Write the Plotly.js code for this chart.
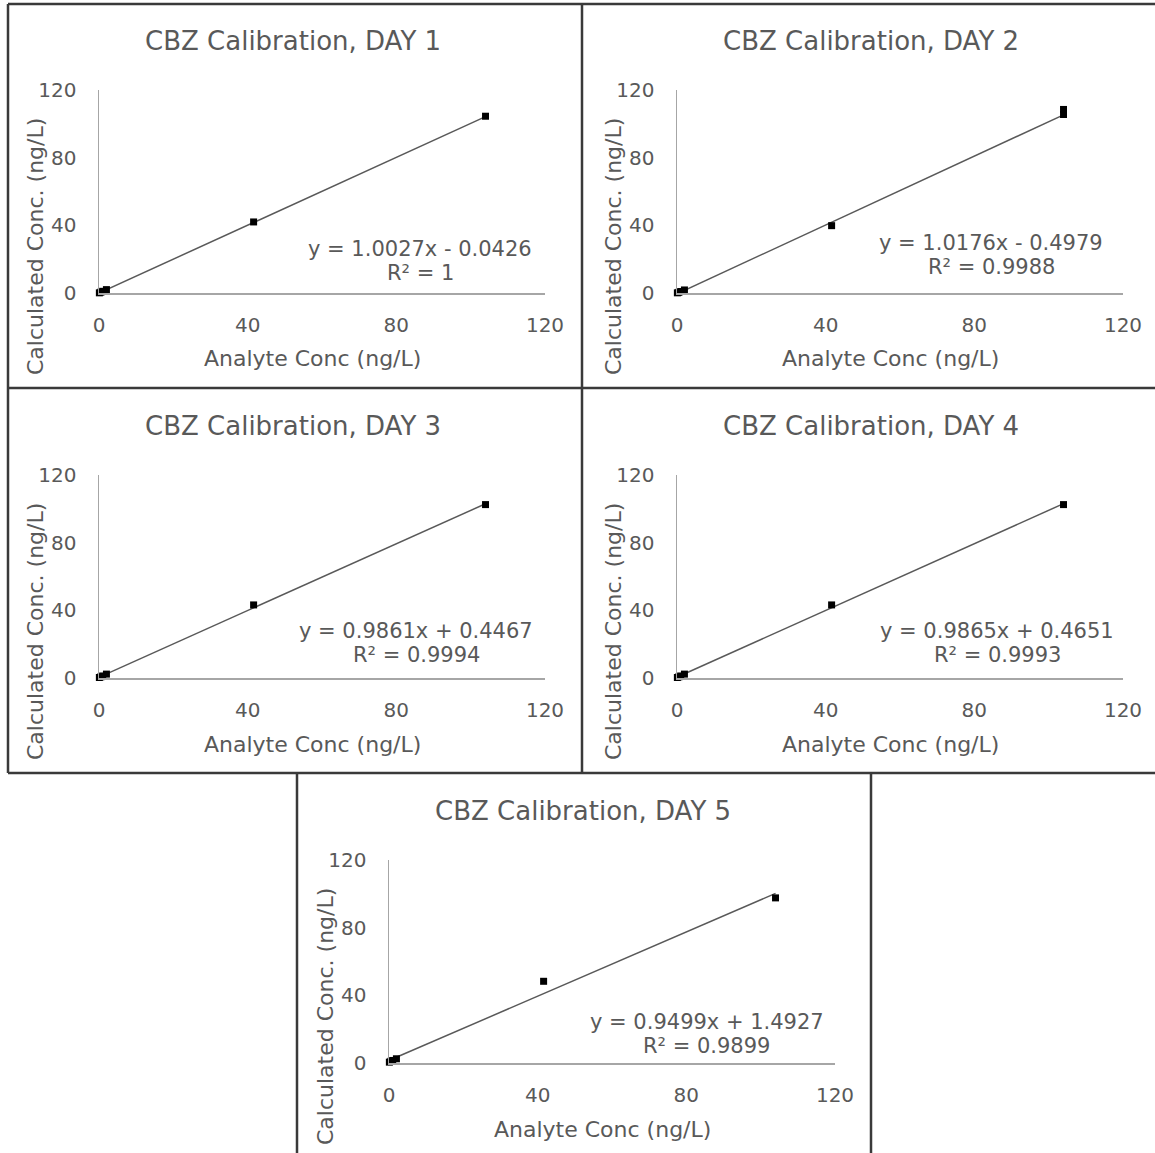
<!DOCTYPE html>
<html><head><meta charset="utf-8">
<script src="https://cdn.plot.ly/plotly-3.0.1.min.js"></script>
<style>body{margin:0;background:#fff}</style>
</head><body><div id="chart" style="width:1155px;height:1153px"></div>
<script>
// ---- data ----
const dayLabels = ['DAY 1', 'DAY 2', 'DAY 3', 'DAY 4', 'DAY 5'];
const day1X = [0.1, 0.5, 1, 2, 41.6, 104];
const day1Y = [0.1, 0.5, 1.0, 2.0, 42.0, 104.5];
const day2X = [0.1, 0.5, 1, 2, 41.6, 104, 104];
const day2Y = [0.1, 0.4, 0.9, 1.8, 39.8, 108.5, 105.5];
const day3X = [0.1, 0.5, 1, 2, 41.6, 104];
const day3Y = [0.3, 0.7, 1.2, 2.3, 43.2, 102.5];
const day4X = [0.1, 0.5, 1, 2, 41.6, 104];
const day4Y = [0.3, 0.7, 1.2, 2.3, 43.2, 102.5];
const day5X = [0.1, 0.5, 1, 2, 41.6, 104];
const day5Y = [0.5, 1.0, 1.5, 2.5, 48.3, 97.6];
const slopes = [1.0027, 1.0176, 0.9861, 0.9865, 0.9499];
const intercepts = [-0.0426, -0.4979, 0.4467, 0.4651, 1.4927];
const r2Labels = ['1', '0.9988', '0.9994', '0.9993', '0.9899'];
const tickVals = [0, 40, 80, 120];
const xTitle = 'Analyte Conc (ng/L)';
const yTitle = 'Calculated Conc. (ng/L)';
const titlePrefix = 'CBZ Calibration, ';

const xs = [day1X, day2X, day3X, day4X, day5X];
const ys = [day1Y, day2Y, day3Y, day4Y, day5Y];

// ---- layout geometry (pixels) ----
const W = 1155, H = 1153;
const offsets = [[0, 0], [578, 0], [0, 385], [578, 385], [290, 770]];
const plotBox = {left: 99, right: 545, bottom: 293, top: 90};
const eqPos = [[420, 249], [413, 243], [416, 246], [419, 246], [417, 252]];
const txt = '#595959';
const font = 'DejaVu Sans, Verdana, sans-serif';
const px = v => v / W;
const py = v => 1 - v / H;

const traces = [], annotations = [], shapes = [];
const layout = {
  width: W, height: H, margin: {l: 0, r: 0, t: 0, b: 0},
  paper_bgcolor: '#fff', plot_bgcolor: 'rgba(0,0,0,0)', showlegend: false,
  font: {family: font, color: txt}
};

for (let i = 0; i < 5; i++) {
  const [ox, oy] = offsets[i];
  const n = i === 0 ? '' : String(i + 1);
  const xa = 'xaxis' + n, ya = 'yaxis' + n;
  const xr = 'x' + n, yr = 'y' + n;
  layout[xa] = {
    domain: [px(plotBox.left + ox), px(plotBox.right + ox)], range: [0, 120],
    anchor: yr, showgrid: false, zeroline: false, showline: true,
    linecolor: '#a6a6a6', linewidth: 1.5, ticks: '', tickvals: tickVals,
    tickfont: {family: font, size: 20, color: txt}, ticklabelstandoff: 13, fixedrange: true
  };
  layout[ya] = {
    domain: [py(plotBox.bottom + oy), py(plotBox.top + oy)], range: [0, 120],
    anchor: xr, showgrid: false, zeroline: false, showline: true,
    linecolor: '#a6a6a6', linewidth: 1.5, ticks: '', tickvals: tickVals,
    tickfont: {family: font, size: 20, color: txt}, ticklabelstandoff: 17, fixedrange: true
  };
  const xMin = Math.min(...xs[i]), xMax = Math.max(...xs[i]);
  traces.push({
    type: 'scatter', mode: 'lines', xaxis: xr, yaxis: yr,
    x: [xMin, xMax], y: [slopes[i] * xMin + intercepts[i], slopes[i] * xMax + intercepts[i]],
    line: {color: '#595959', width: 1.5}, cliponaxis: false, hoverinfo: 'skip'
  });
  traces.push({
    type: 'scatter', mode: 'markers', xaxis: xr, yaxis: yr,
    x: xs[i], y: ys[i], cliponaxis: false,
    marker: {symbol: 'square', size: 7, color: '#000'}
  });
  // title
  annotations.push({xref: 'paper', yref: 'paper', x: px(293 + ox), y: py(41 + oy),
    text: titlePrefix + dayLabels[i], showarrow: false, xanchor: 'center', yanchor: 'middle',
    font: {family: font, size: 26, color: txt}});
  // axis titles
  annotations.push({xref: 'paper', yref: 'paper', x: px(312 + ox), y: py(359 + oy),
    text: xTitle, showarrow: false, xanchor: 'center', yanchor: 'middle',
    font: {family: font, size: 22, color: txt}});
  annotations.push({xref: 'paper', yref: 'paper', x: px(35 + ox), y: py(247 + oy),
    text: yTitle, showarrow: false, textangle: -90, xanchor: 'center', yanchor: 'middle',
    font: {family: font, size: 22, color: txt}});
  // equation
  const b = intercepts[i];
  const eq = 'y = ' + slopes[i].toFixed(4) + 'x ' + (b < 0 ? '- ' : '+ ') + Math.abs(b).toFixed(4);
  annotations.push({xref: 'paper', yref: 'paper', x: px(eqPos[i][0] + ox), y: py(eqPos[i][1] + oy),
    text: eq, showarrow: false, xanchor: 'center', yanchor: 'middle',
    font: {family: font, size: 21, color: txt}});
  annotations.push({xref: 'paper', yref: 'paper', x: px(eqPos[i][0] + ox), y: py(eqPos[i][1] + 24 + oy),
    text: 'R² = ' + r2Labels[i], showarrow: false, xanchor: 'center', yanchor: 'middle',
    font: {family: font, size: 21, color: txt}});
}

// panel frames
const frameLine = {color: '#3a3a3a', width: 2.5};
const seg = (x0, y0, x1, y1) => shapes.push({type: 'line', xref: 'paper', yref: 'paper',
  x0: px(x0), y0: py(y0), x1: px(x1), y1: py(y1), line: frameLine});
seg(8, 4, W, 4);
seg(8, 388, W, 388);
seg(8, 773, W, 773);
seg(8, 4, 8, 773);
seg(582, 4, 582, 773);
seg(297, 773, 297, H);
seg(871, 773, 871, H);

layout.annotations = annotations;
layout.shapes = shapes;
Plotly.newPlot('chart', traces, layout, {staticPlot: true});
</script></body></html>
